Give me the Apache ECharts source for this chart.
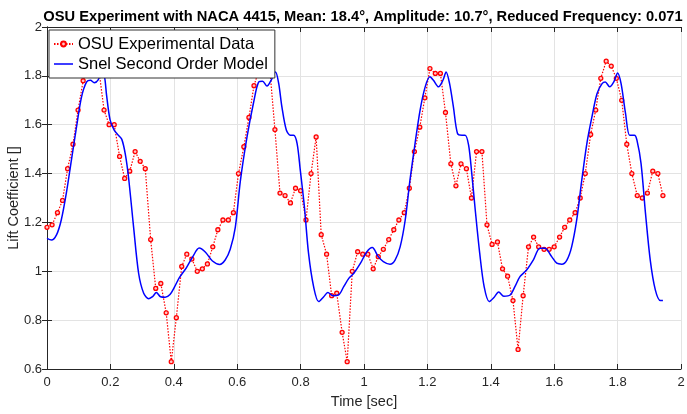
<!DOCTYPE html>
<html lang="en">
<head>
	<meta charset="UTF-8">
	<title>OSU NACA 4415</title>
	<script src="https://cdn.jsdelivr.net/npm/echarts@6/dist/echarts.min.js"></script>
	<style>
		html, body { margin: 0; padding: 0; background: #fff; }
	</style>
</head>
<body>
	<div id="chart" style="width: 687px; height: 414px;"></div>
	<script type="text/javascript">

        // OSU experimental samples (time in sec, lift coefficient)
        const expTime = [
            0, 0.016, 0.033, 0.049, 0.065, 0.082, 0.098, 0.114, 0.131, 0.147,
            0.163, 0.180, 0.196, 0.212, 0.229, 0.245, 0.261, 0.278, 0.294, 0.310,
            0.327, 0.343, 0.359, 0.376, 0.392, 0.408, 0.425, 0.441, 0.457, 0.474,
            0.490, 0.506, 0.523, 0.539, 0.555, 0.572, 0.588, 0.604, 0.621, 0.637,
            0.653, 0.670, 0.686, 0.702, 0.719, 0.735, 0.751, 0.768, 0.784, 0.800,
            0.817, 0.833, 0.849, 0.865, 0.882, 0.898, 0.914, 0.931, 0.947, 0.963,
            0.980, 0.996, 1.012, 1.029, 1.045, 1.061, 1.078, 1.094, 1.110, 1.127,
            1.143, 1.159, 1.176, 1.192, 1.208, 1.225, 1.241, 1.257, 1.274, 1.290,
            1.306, 1.323, 1.339, 1.355, 1.372, 1.388, 1.404, 1.421, 1.437, 1.453,
            1.470, 1.486, 1.502, 1.519, 1.535, 1.551, 1.568, 1.584, 1.600, 1.617,
            1.633, 1.649, 1.666, 1.682, 1.698, 1.715, 1.731, 1.747, 1.764, 1.780,
            1.796, 1.813, 1.829, 1.845, 1.862, 1.878, 1.894, 1.911, 1.927, 1.943
        ];
        const expLift = [
            1.18, 1.19, 1.24, 1.29, 1.42, 1.52, 1.66, 1.78, 1.84, 1.87,
            1.83, 1.66, 1.60, 1.60, 1.47, 1.38, 1.41, 1.49, 1.45, 1.42,
            1.13, 0.93, 0.95, 0.83, 0.63, 0.81, 1.02, 1.07, 1.05, 1.00,
            1.01, 1.03, 1.10, 1.17, 1.21, 1.21, 1.24, 1.40, 1.51, 1.63,
            1.76, 1.83, 1.86, 1.84, 1.58, 1.32, 1.31, 1.28, 1.34, 1.33,
            1.21, 1.40, 1.55, 1.15, 1.07, 0.90, 0.91, 0.75, 0.63, 1.00,
            1.08, 1.07, 1.07, 1.01, 1.06, 1.09, 1.13, 1.17, 1.21, 1.24,
            1.34, 1.49, 1.59, 1.71, 1.83, 1.81, 1.81, 1.65, 1.44, 1.35,
            1.44, 1.42, 1.30, 1.49, 1.49, 1.19, 1.11, 1.12, 1.01, 0.98,
            0.88, 0.68, 0.90, 1.10, 1.14, 1.10, 1.09, 1.09, 1.10, 1.14,
            1.18, 1.21, 1.24, 1.30, 1.40, 1.56, 1.66, 1.79, 1.86, 1.84,
            1.79, 1.70, 1.52, 1.40, 1.31, 1.30, 1.32, 1.41, 1.40, 1.31
        ];

        // Snel second order model curve
        const modelTime = [
            0.000, 0.014, 0.030, 0.045, 0.061, 0.077, 0.093, 0.109, 0.125, 0.137,
            0.149, 0.162, 0.172, 0.181, 0.188, 0.199, 0.212, 0.225, 0.236, 0.247,
            0.257, 0.273, 0.289, 0.305, 0.321, 0.333, 0.345, 0.358, 0.373, 0.388,
            0.402, 0.418, 0.440, 0.460, 0.480, 0.500, 0.522, 0.545, 0.562, 0.578,
            0.594, 0.610, 0.631, 0.652, 0.668, 0.680, 0.694, 0.707, 0.721, 0.731,
            0.741, 0.755, 0.768, 0.778, 0.789, 0.799, 0.812, 0.825, 0.841, 0.857,
            0.873, 0.886, 0.902, 0.920, 0.936, 0.952, 0.968, 0.989, 1.008, 1.026,
            1.045, 1.061, 1.082, 1.098, 1.114, 1.130, 1.145, 1.161, 1.177, 1.193,
            1.208, 1.219, 1.235, 1.249, 1.259, 1.270, 1.282, 1.295, 1.309, 1.319,
            1.330, 1.340, 1.351, 1.365, 1.379, 1.395, 1.410, 1.425, 1.441, 1.461,
            1.476, 1.492, 1.513, 1.534, 1.555, 1.571, 1.592, 1.608, 1.624, 1.640,
            1.655, 1.671, 1.687, 1.703, 1.719, 1.735, 1.751, 1.761, 1.775, 1.788,
            1.800, 1.811, 1.825, 1.838, 1.853, 1.861, 1.874, 1.888, 1.903, 1.919,
            1.935, 1.943
        ];
        const modelLift = [
            1.135, 1.128, 1.149, 1.21, 1.32, 1.455, 1.59, 1.714, 1.775, 1.782,
            1.772, 1.785, 1.82, 1.80, 1.72, 1.62, 1.578, 1.557, 1.54, 1.48,
            1.387, 1.183, 0.992, 0.91, 0.888, 0.896, 0.913, 0.896, 0.894, 0.905,
            0.935, 0.975, 1.015, 1.06, 1.095, 1.078, 1.042, 1.028, 1.046, 1.09,
            1.18, 1.37, 1.55, 1.693, 1.775, 1.778, 1.758, 1.782, 1.816, 1.768,
            1.673, 1.578, 1.557, 1.557, 1.523, 1.414, 1.264, 1.074, 0.937, 0.876,
            0.896, 0.913, 0.90, 0.903, 0.937, 0.971, 0.992, 1.033, 1.078, 1.097,
            1.06, 1.04, 1.029, 1.046, 1.10, 1.21, 1.373, 1.523, 1.66, 1.755,
            1.796, 1.782, 1.755, 1.782, 1.816, 1.768, 1.673, 1.564, 1.557, 1.557,
            1.516, 1.40, 1.25, 1.074, 0.937, 0.876, 0.893, 0.915, 0.898, 0.903,
            0.937, 0.978, 1.005, 1.046, 1.094, 1.094, 1.06, 1.033, 1.029, 1.046,
            1.10, 1.21, 1.373, 1.523, 1.632, 1.727, 1.768, 1.775, 1.755, 1.775,
            1.812, 1.768, 1.646, 1.557, 1.557, 1.537, 1.441, 1.237, 1.046, 0.924,
            0.88, 0.88
        ];

        const titleText = 'OSU Experiment with NACA 4415, Mean: 18.4°, Amplitude: 10.7°, Reduced Frequency: 0.071';

        const font = "'Liberation Sans', Arial, sans-serif";
        const axisColor = '#262626';
        const fmt = (v) => String(+v.toFixed(1));

        const chart = echarts.init(document.getElementById('chart'));

        chart.setOption({
            animation: false,
            backgroundColor: '#fff',
            title: {
                text: titleText,
                left: 358,
                textAlign: 'center',
                top: 4,
                textStyle: { fontFamily: font, fontSize: 14.7, fontWeight: 'bold', color: '#000' }
            },
            legend: {
                orient: 'vertical',
                left: 49,
                top: 30,
                padding: [5, 7, 5, 4],
                itemGap: 2,
                itemWidth: 19,
                itemHeight: 6,
                backgroundColor: '#fff',
                borderColor: '#333',
                borderWidth: 1,
                borderRadius: 0,
                textStyle: { fontFamily: font, fontSize: 16.5, color: '#000', lineHeight: 18 },
                data: [
                    'OSU Experimental Data',
                    { name: 'Snel Second Order Model', icon: 'path://M0,0H20V1.6H0Z' }
                ]
            },
            grid: { left: 47, right: 6, top: 27, bottom: 45, containLabel: false, outerBoundsMode: 'none' },
            xAxis: [{
                type: 'value',
                min: 0, max: 2, interval: 0.2,
                name: 'Time [sec]',
                nameLocation: 'middle',
                nameGap: 25,
                nameTextStyle: { fontFamily: font, fontSize: 14.5, color: axisColor },
                axisLine: { lineStyle: { color: axisColor, width: 1 } },
                axisTick: { inside: true, length: 5, lineStyle: { color: axisColor } },
                axisLabel: { fontFamily: font, fontSize: 13, color: axisColor, margin: 7, formatter: fmt },
                splitLine: { show: true, lineStyle: { color: '#e3e3e3', width: 1 } }
            }, {
                type: 'value',
                position: 'top',
                min: 0, max: 2, interval: 0.2,
                axisLine: { lineStyle: { color: axisColor, width: 1 } },
                axisTick: { inside: true, length: 5, lineStyle: { color: axisColor } },
                axisLabel: { show: false },
                splitLine: { show: false }
            }],
            yAxis: [{
                type: 'value',
                min: 0.6, max: 2, interval: 0.2,
                name: 'Lift Coefficient []',
                nameLocation: 'middle',
                nameGap: 26,
                nameMoveOverlap: false,
                nameTextStyle: { fontFamily: font, fontSize: 14.5, color: axisColor },
                axisLine: { show: true, lineStyle: { color: axisColor, width: 1 } },
                axisTick: { show: true, inside: true, length: 5, lineStyle: { color: axisColor } },
                axisLabel: { fontFamily: font, fontSize: 13, color: axisColor, margin: 5, formatter: fmt },
                splitLine: { show: true, lineStyle: { color: '#e3e3e3', width: 1 } }
            }, {
                type: 'value',
                position: 'right',
                min: 0.6, max: 2, interval: 0.2,
                axisLine: { show: true, lineStyle: { color: axisColor, width: 1 } },
                axisTick: { show: true, inside: true, length: 5, lineStyle: { color: axisColor } },
                axisLabel: { show: false },
                splitLine: { show: false }
            }],
            series: [{
                name: 'OSU Experimental Data',
                type: 'line',
                data: expTime.map((t, i) => [t, expLift[i]]),
                symbol: 'circle',
                symbolSize: 4,
                showSymbol: true,
                itemStyle: { color: '#ffc4c4', borderColor: '#ff0000', borderWidth: 1.3 },
                lineStyle: { color: '#ff0000', width: 1.2, type: [1.5, 1.5] },
                z: 2
            }, {
                name: 'Snel Second Order Model',
                type: 'line',
                data: modelTime.map((t, i) => [t, modelLift[i]]),
                showSymbol: false,
                symbol: 'none',
                smooth: 0.3,
                itemStyle: { color: '#0000ff' },
                lineStyle: { color: '#0000ff', width: 1.5 },
                z: 3
            }]
        });
	</script>
</body>
</html>
